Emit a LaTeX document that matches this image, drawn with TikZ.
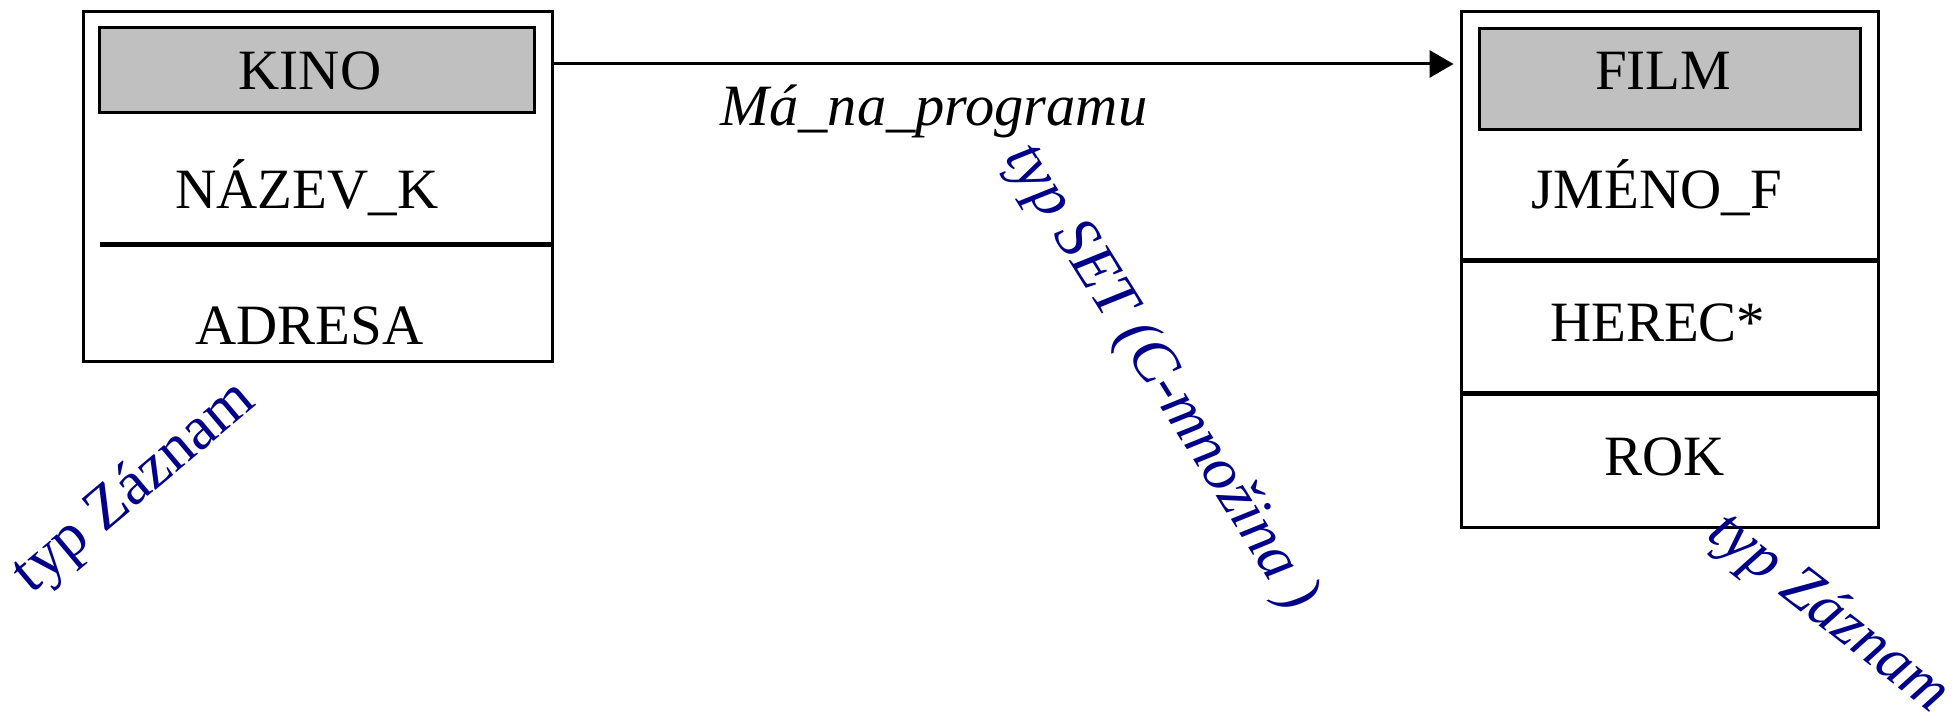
\documentclass[tikz,border=0pt]{standalone}
\usepackage{fontspec}
\setmainfont{Liberation Serif}
\usetikzlibrary{arrows.meta,calc}
\definecolor{notenavy}{RGB}{0,0,139}
\definecolor{headgray}{RGB}{192,192,192}
\begin{document}
\begin{tikzpicture}[x=1pt,y=-1pt,
  every node/.style={font=\fontsize{57}{64}\selectfont, inner sep=0pt},
  recbox/.style={draw, line width=3pt, fill=white},
  headbox/.style={draw, line width=3pt, fill=headgray},
  fieldtxt/.style={anchor=base},
  seprule/.style={line width=5pt},
  relarrow/.style={line width=3pt, -{Triangle[length=24pt,width=27pt]}},
  notetxt/.style={text=notenavy, font=\fontsize{62}{68}\selectfont},
  noteit/.style={text=notenavy, font=\fontsize{62}{68}\selectfont\itshape}]
\useasboundingbox (0,0) rectangle (1955,719);

% record KINO
\node[recbox, minimum width=469pt, minimum height=350.4pt] (kino) at (318,186.4) {};
\node[headbox, minimum width=435pt, minimum height=84.3pt] (kinohead) at (317.3,70) {};
\node[fieldtxt] (kinoname) at (310,89.8) {KINO};
\node[fieldtxt] (kinof1) at (307,208.5) {NÁZEV\_K};
\draw[seprule] (100,244.6) -- (551,244.6);
\node[fieldtxt] (kinof2) at (309.6,344.3) {ADRESA};

% record FILM
\node[recbox, minimum width=417pt, minimum height=516.2pt] (film) at (1669.5,269.3) {};
\node[headbox, minimum width=381pt, minimum height=100.9pt] (filmhead) at (1669.5,78.6) {};
\node[fieldtxt] (filmname) at (1663.3,89.2) {FILM};
\node[fieldtxt] (filmf1) at (1656.8,208.5) {JMÉNO\_F};
\draw[seprule] (1461,260.3) -- (1878,260.3);
\node[fieldtxt] (filmf2) at (1657.8,341.5) {HEREC*};
\draw[seprule] (1461,393.4) -- (1878,393.4);
\node[fieldtxt] (filmf3) at (1664.7,475.5) {ROK};

% relationship
\coordinate (arrowy) at (0,64);
\draw[relarrow] (kino.east |- arrowy) -- ($(film.west |- arrowy)+(-6,0)$);
\node[fieldtxt, font=\fontsize{58.5}{64}\selectfont\itshape] (relname) at (934,126) {Má\_na\_programu};

% type annotations
\node[notetxt, rotate=40] (kinotype) at (135,488) {typ Záznam};
\node[noteit, rotate=-58] (settype) at (1160,378) {typ SET (C-množina )};
\node[noteit, rotate=-38] (filmtype) at (1828,614) {typ Záznam};
\end{tikzpicture}
\end{document}
